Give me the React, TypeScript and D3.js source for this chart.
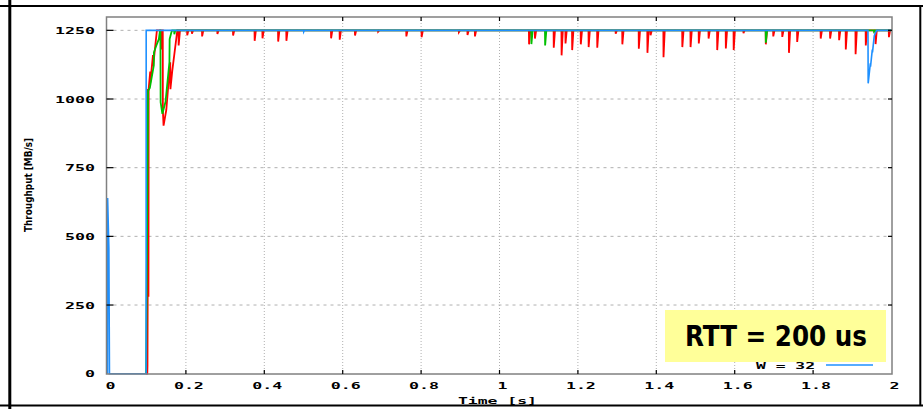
import React from "react";
import * as d3 from "d3";

// ---- data ----
const xTicks = [0, 0.2, 0.4, 0.6, 0.8, 1, 1.2, 1.4, 1.6, 1.8, 2];
const xTickLabels = ["0", "0.2", "0.4", "0.6", "0.8", "1", "1.2", "1.4", "1.6", "1.8", "2"];
const yTicks = [0, 250, 500, 750, 1000, 1250];
const yTickLabels = ["0", "250", "500", "750", "1000", "1250"];
const PLATEAU = 1250;

// W = 32 (blue)
const bluePoints: [number, number][] = [
  [0, 0], [0.0003, 640], [0.0035, 457], [0.005, 0], [0.0985, 0], [0.0987, 1250],
  [0.5, 1250], [0.5005, 1245], [0.502, 1250],
  [1.94, 1250], [1.9405, 1057], [1.946, 1130], [1.9465, 1118], [1.951, 1180],
  [1.9515, 1170], [1.956, 1230], [1.962, 1250], [2, 1250],
];

// red series: start-up phase, then dips (time, minimum)
const redStart: [number, number][] = [
  [0.0985, 0], [0.1015, 0], [0.102, 30], [0.1025, 280], [0.1028, 1036], [0.1045, 280],
  [0.105, 1036], [0.109, 1100], [0.1092, 1060], [0.116, 1160], [0.1165, 1120],
  [0.126, 1250], [0.137, 1250], [0.1375, 1180], [0.139, 1250], [0.141, 1250],
  [0.1412, 960], [0.143, 903], [0.15, 960], [0.16, 1134], [0.1605, 1036], [0.165, 1100],
  [0.1775, 1243], [0.178, 1250], [0.181, 1250], [0.1815, 1195], [0.185, 1250],
];
const redDips: [number, number][] = [
  [0.203, 1232], [0.215, 1238], [0.241, 1228], [0.28, 1237], [0.32, 1231], [0.375, 1212],
  [0.395, 1221], [0.435, 1209], [0.456, 1212], [0.57, 1221], [0.592, 1216], [0.631, 1231],
  [0.69, 1245], [0.762, 1228], [0.801, 1225], [0.896, 1243], [0.918, 1233], [0.937, 1228],
  [1.075, 1199], [1.09, 1220], [1.138, 1187], [1.158, 1159], [1.168, 1202], [1.185, 1178],
  [1.207, 1199], [1.227, 1189], [1.249, 1187], [1.296, 1238], [1.313, 1199], [1.355, 1183],
  [1.377, 1168], [1.385, 1232], [1.418, 1152], [1.466, 1189], [1.487, 1189], [1.508, 1202],
  [1.533, 1220], [1.555, 1178], [1.577, 1184], [1.597, 1178], [1.622, 1240], [1.679, 1199],
  [1.698, 1228], [1.721, 1226], [1.738, 1168], [1.759, 1208], [1.819, 1220], [1.843, 1220],
  [1.866, 1214], [1.883, 1180], [1.908, 1163], [1.934, 1195], [1.959, 1200], [1.993, 1225],
];

// green series
const greenStart: [number, number][] = [
  [0.0985, 0], [0.1035, 1030], [0.108, 1040], [0.118, 1121], [0.1185, 1170], [0.126, 1200],
  [0.131, 1218], [0.134, 1250], [0.135, 1250], [0.1355, 988], [0.14, 946], [0.148, 990],
  [0.158, 1134], [0.1585, 1218], [0.163, 1243], [0.165, 1250], [0.17, 1250],
  [0.1705, 1236], [0.173, 1250],
];
const greenDips: [number, number][] = [
  [1.081, 1200], [1.116, 1195], [1.679, 1205], [1.955, 1245],
];

const legendLabel = "W = 32";
const boxText = "RTT = 200 us";

// ---- layout ----
const W = 923;
const H = 409;
const PL = 106.5, PR = 892, PT = 17, PB = 374;

const x = d3.scaleLinear().domain([0, 2]).range([107.5, 891.5]);
const y = d3.scaleLinear().domain([0, 1300]).range([373.7, 16.6]);

function withDips(start: [number, number][], dips: [number, number][]): [number, number][] {
  const pts: [number, number][] = [...start];
  dips.forEach(([t, v]) => {
    pts.push([t, PLATEAU], [t + 0.0004, v], [t + 0.0035, PLATEAU]);
  });
  pts.push([2, PLATEAU]);
  return pts;
}

const line = d3
  .line<[number, number]>()
  .x((d) => x(d[0]))
  .y((d) => y(d[1]));

const monoFont = "'DejaVu Sans Mono', monospace";

export default function App() {
  const red = withDips(redStart, redDips);
  const green = withDips(greenStart, greenDips);

  return (
    <svg
      width={W}
      height={H}
      viewBox={`0 0 ${W} ${H}`}
      style={{ position: "absolute", left: 0, top: 0, background: "#fff" }}
    >
      <rect x={0} y={0} width={W} height={H} fill="#fff" />

      {/* grid */}
      {yTicks.slice(1).map((t) => (
        <line key={"gy" + t} x1={PL} x2={PR} y1={y(t)} y2={y(t)} stroke="#b0b0b0" strokeWidth={1} strokeDasharray="3,4" />
      ))}
      {xTicks.slice(1, -1).map((t) => (
        <line key={"gx" + t} x1={x(t)} x2={x(t)} y1={PT} y2={PB} stroke="#b0b0b0" strokeWidth={1} strokeDasharray="1,2" />
      ))}

      {/* data */}
      <path d={line(red) || ""} fill="none" stroke="#ff0000" strokeWidth={1.8} />
      <path d={line(green) || ""} fill="none" stroke="#00c000" strokeWidth={1.8} />
      <path d={line(bluePoints) || ""} fill="none" stroke="#1e90ff" strokeWidth={1.6} />

      {/* frame */}
      <rect x={PL} y={PT} width={PR - PL} height={PB - PT} fill="none" stroke="#808080" strokeWidth={1.5} />

      {/* ticks */}
      {yTicks.slice(1).map((t) => (
        <g key={"ty" + t}>
          <line x1={PL} x2={PL + 7} y1={y(t)} y2={y(t)} stroke="#000" strokeWidth={1.2} />
          <line x1={PR - 4} x2={PR} y1={y(t)} y2={y(t)} stroke="#000" strokeWidth={1.2} />
        </g>
      ))}
      {xTicks.slice(1, -1).map((t) => (
        <g key={"tx" + t}>
          <line x1={x(t)} x2={x(t)} y1={PB} y2={PB - 4} stroke="#000" strokeWidth={1.2} />
          <line x1={x(t)} x2={x(t)} y1={PT} y2={PT + 4} stroke="#000" strokeWidth={1.2} />
        </g>
      ))}

      {/* tick labels */}
      {yTicks.map((t, i) => (
        <text
          key={"ly" + t}
          x={95}
          y={y(t) + 3.5}
          textAnchor="end"
          fontFamily={monoFont}
          fontWeight="bold"
          fontSize={9.5}
          textLength={yTickLabels[i].length * 10}
          lengthAdjust="spacingAndGlyphs"
          fill="#000"
        >
          {yTickLabels[i]}
        </text>
      ))}
      {xTicks.map((t, i) => (
        <text
          key={"lx" + t}
          x={x(t) + 3}
          y={388.8}
          textAnchor="middle"
          fontFamily={monoFont}
          fontWeight="bold"
          fontSize={9.5}
          textLength={xTickLabels[i].length * 10}
          lengthAdjust="spacingAndGlyphs"
          fill="#000"
        >
          {xTickLabels[i]}
        </text>
      ))}

      {/* axis titles */}
      <text
        x={497.5}
        y={404}
        textAnchor="middle"
        fontFamily={monoFont}
        fontWeight="bold"
        fontSize={9.5}
        textLength={79}
        lengthAdjust="spacingAndGlyphs"
      >
        Time [s]
      </text>
      <text
        transform="translate(31.5,185) rotate(-90)"
        textAnchor="middle"
        fontFamily="'DejaVu Sans Condensed', 'DejaVu Sans', sans-serif"
        fontWeight="bold"
        fontSize={11}
        textLength={94}
        lengthAdjust="spacingAndGlyphs"
      >
        Throughput [MB/s]
      </text>

      {/* legend */}
      <text
        x={815}
        y={368.5}
        textAnchor="end"
        fontFamily={monoFont}
        fontWeight="bold"
        fontSize={9.5}
        textLength={59}
        lengthAdjust="spacingAndGlyphs"
      >
        {legendLabel}
      </text>
      <line x1={826} x2={873} y1={365} y2={365} stroke="#1e90ff" strokeWidth={1.6} />

      {/* annotation box */}
      <rect x={665} y={310} width={221} height={52} fill="#ffff99" />
      <text
        x={776}
        y={345.5}
        textAnchor="middle"
        fontFamily="'DejaVu Sans', sans-serif"
        fontWeight="bold"
        fontSize={28}
        textLength={182}
        lengthAdjust="spacingAndGlyphs"
        fill="#000"
      >
        {boxText}
      </text>

      {/* outer page borders */}
      <line x1={0} x2={W} y1={6} y2={6} stroke="#000" strokeWidth={1.8} />
      <line x1={0} x2={W} y1={405.5} y2={405.5} stroke="#000" strokeWidth={2} />
      <line x1={9.8} x2={9.8} y1={0} y2={H} stroke="#000" strokeWidth={3} />
      <line x1={920.3} x2={920.3} y1={6} y2={405.5} stroke="#000" strokeWidth={2} />
    </svg>
  );
}
